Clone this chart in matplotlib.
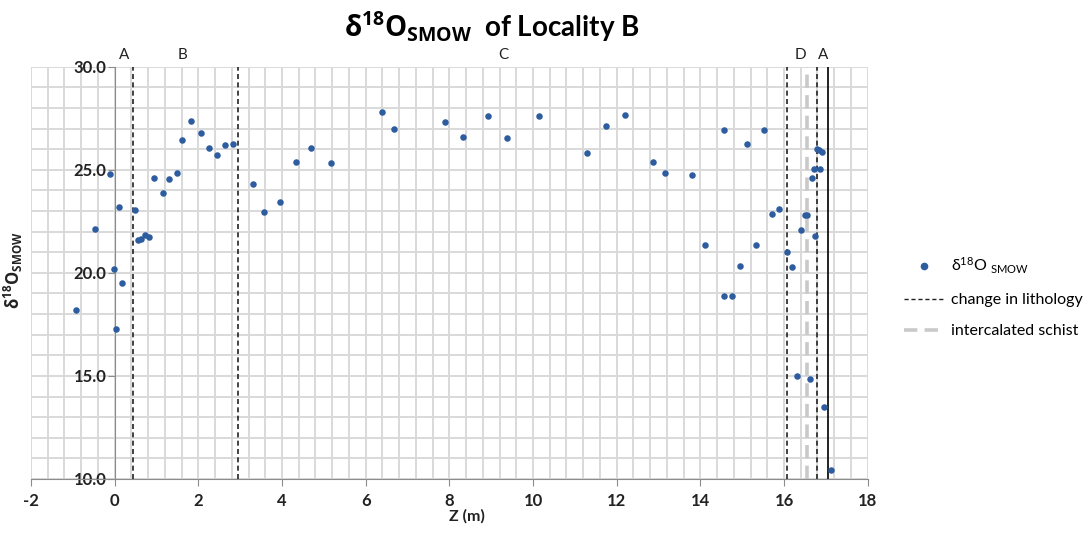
import matplotlib
matplotlib.use('Agg')
import matplotlib.pyplot as plt
from matplotlib.lines import Line2D
from matplotlib.ticker import MultipleLocator

plt.rcParams['font.family'] = ['Lato', 'DejaVu Sans']
plt.rcParams['font.weight'] = 'bold'
plt.rcParams['mathtext.fontset'] = 'custom'
plt.rcParams['mathtext.rm'] = 'Open Sans'
plt.rcParams['mathtext.bf'] = 'Open Sans:weight=bold'
plt.rcParams['mathtext.it'] = 'Open Sans:italic'

# stratigraphic height (m) and delta-18O (per mil, SMOW)
z = [-0.93, -0.47, -0.11, -0.01, 0.03, 0.10, 0.18, 0.49, 0.56, 0.62, 0.72, 0.83,
     0.95, 1.15, 1.30, 1.50, 1.61, 1.83, 2.06, 2.26, 2.45, 2.64, 2.82,
     3.30, 3.57, 3.95, 4.33, 4.70, 5.17, 6.38, 6.68, 7.89, 8.32, 8.93, 9.38,
     10.15, 11.29, 11.75, 12.21, 12.87, 13.15, 13.81, 14.10, 14.56, 14.56,
     14.76, 14.96, 15.12, 15.32, 15.52, 15.72, 15.88, 16.08, 16.18, 16.30,
     16.40, 16.50, 16.54, 16.63, 16.68, 16.75, 16.72, 16.86, 16.78, 16.84,
     16.91, 16.95, 17.12]
d18o = [18.22, 22.12, 24.79, 20.19, 17.28, 23.20, 19.53, 23.06, 21.59, 21.65, 21.86, 21.73,
        24.60, 23.87, 24.53, 24.85, 26.44, 27.38, 26.80, 26.05, 25.71, 26.18, 26.26,
        24.32, 22.93, 23.46, 25.37, 26.05, 25.31, 27.79, 26.99, 27.30, 26.59, 27.59, 26.52,
        27.59, 25.80, 27.12, 27.66, 25.39, 24.85, 24.73, 21.33, 26.93, 18.87,
        18.87, 20.33, 26.25, 21.33, 26.93, 22.86, 23.12, 21.00, 20.26, 15.02,
        22.06, 22.82, 22.79, 14.87, 24.58, 21.78, 25.05, 25.05, 25.99, 25.95,
        25.85, 13.48, 10.42]

x_ticks = [-2, 0, 2, 4, 6, 8, 10, 12, 14, 16, 18]
y_ticks = [10, 15, 20, 25, 30]

lithology_changes = [0.45, 2.94, 16.07, 16.79]
schist = [16.56]
outer_boundary = 17.06
unit_names = ['A', 'B', 'C', 'D', 'A']
unit_pos = [0.22, 1.63, 9.29, 16.40, 16.93]

fig = plt.figure(figsize=(10.91, 5.38), dpi=100)
ax = fig.add_axes([0.0284, 0.1097, 0.7669, 0.7663])

ax.set_xlim(-2, 18)
ax.set_ylim(10, 30)
ax.tick_params(which='major', direction='out', length=5, color='#8c8c8c',
               labelsize=12, labelcolor='#222222')
ax.tick_params(which='minor', length=0)
ax.tick_params(axis='x', pad=5)
ax.tick_params(axis='y', pad=1)
ax.set_xticks(x_ticks, [str(v) for v in x_ticks])
ax.set_yticks(y_ticks, ['%.1f' % v for v in y_ticks])
ax.xaxis.set_minor_locator(MultipleLocator(0.4))
ax.yaxis.set_minor_locator(MultipleLocator(1))
ax.grid(which='both', color='#d9d9d9', linewidth=1.4, zorder=0)
ax.set_axisbelow(True)

for s in ('top', 'right'):
    ax.spines[s].set_visible(False)
ax.spines['left'].set_position(('data', 0))
ax.spines['left'].set_color('#8c8c8c')
ax.spines['bottom'].set_color('#8c8c8c')

for xc in lithology_changes:
    ax.axvline(xc, color='#222222', linewidth=1.2, linestyle=(0, (3, 2)), zorder=2)
for xc in schist:
    ax.axvline(xc, color='#c9c9c9', linewidth=2.6, linestyle=(0, (3.7, 2)), zorder=2)
ax.axvline(outer_boundary, color='#111111', linewidth=1.3, zorder=2)

ax.scatter(z, d18o, s=22, color='#2d5d9f', zorder=3, linewidths=0)

for name, xp in zip(unit_names, unit_pos):
    ax.text(xp, 30.55, name, ha='center', va='center', fontsize=11,
            fontweight='normal', color='#222222')

fig.text(492 / 1091, 1 - 27 / 538, r'$\mathbf{\delta^{18}O_{SMOW}}$  of Locality B',
         ha='center', va='center', fontsize=20, fontweight='bold')
fig.text(467 / 1091, 1 - 516 / 538, 'Z (m)', ha='center', va='center',
         fontsize=11.5, fontweight='bold', color='#222222')
fig.text(13 / 1091, 1 - 270 / 538, r'$\mathbf{\delta^{18}O_{SMOW}}$', ha='center', va='center',
         rotation=90, fontsize=12, color='#222222')

handles = [
    Line2D([], [], marker='o', linestyle='none', markersize=4.5, color='#2d5d9f'),
    Line2D([], [], color='#222222', linewidth=1.0, linestyle=(0, (3, 2))),
    Line2D([], [], color='#c9c9c9', linewidth=2.6, linestyle=(0, (3.7, 2))),
]
labels = [r'δ$\mathregular{^{18}}$O $\mathregular{_{SMOW}}$', 'change in lithology',
          'intercalated schist']
fig.legend(handles, labels, loc='center left', bbox_to_anchor=(890 / 1091, 1 - 297 / 538),
           frameon=False, prop={'size': 11.5, 'weight': 'normal'}, handlelength=2.4,
           labelspacing=1.05, handletextpad=0.5)

fig.savefig('out.png', dpi=100)
